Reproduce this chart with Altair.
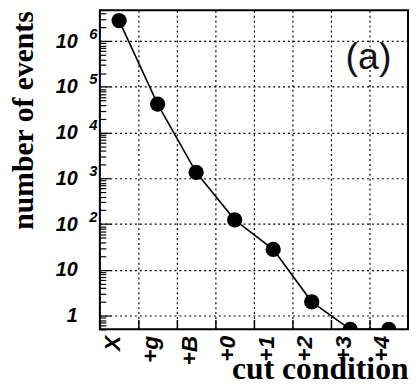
import altair as alt
import pandas as pd

cuts = ["X", "+g", "+B", "+0", "+1", "+2", "+3", "+4"]
events = [2.8e6, 4.2e4, 1.35e3, 124, 28, 2.0, 0.5, 0.5]
major_ticks = [1, 10, 100, 1e3, 1e4, 1e5, 1e6]
exp_ticks = [100, 1e3, 1e4, 1e5, 1e6]
y_min, y_max = 0.5, 4.7e6
minor_ticks = [m * 10.0 ** k for k in range(-1, 7) for m in range(2, 10)
               if y_min <= m * 10.0 ** k <= y_max]
panel_label = "(a)"

df = pd.DataFrame({"cut": cuts, "events": events})

W, H = 312, 323

xscale = alt.Scale(domain=cuts, paddingInner=0, paddingOuter=0)
yscale = alt.Scale(type="log", domain=[y_min, y_max], clamp=True, nice=False)

k = "round(log(datum.value)/LN10)"
base_expr = "datum.value >= 10 ? '10' : '1'"
exp_expr = f"'' + {k}"

grid_style = dict(grid=True, gridColor="black", gridDash=[2, 3], gridWidth=1.2, gridOpacity=1)
lab_style = dict(labelFont="Liberation Sans", labelFontStyle="italic", labelFontWeight="bold",
                 labelColor="black")
title_style = dict(titleFont="Liberation Serif", titleFontWeight="bold", titleColor="black")

x_main = alt.X("cut:N", scale=xscale, sort=cuts,
               axis=alt.Axis(title="cut condition", titleAnchor="end", titleAlign="right",
                             titleBaseline="alphabetic", titleX=W, titleY=50, titleFontSize=32,
                             labelFontSize=23, labelAngle=270, labelAlign="right",
                             labelBaseline="middle", labelPadding=6, labelOffset=-7,
                             ticks=False, domain=False, tickBand="extent",
                             **grid_style, **lab_style, **title_style))
y_main = alt.Y("events:Q", scale=yscale,
               axis=alt.Axis(values=major_ticks, labelExpr=base_expr, title="number of events",
                             titleAngle=270, titleX=-68, titleY=111, titleBaseline="alphabetic",
                             titleAlign="center", titleFontSize=30,
                             labelFontSize=20, labelPadding=23, labelBaseline="middle",
                             ticks=False, domain=False,
                             **grid_style, **lab_style, **title_style))

base = alt.Chart(df).encode(x=x_main, y=y_main)
line = base.mark_line(color="black", strokeWidth=1.6, clip=True)
pts = base.mark_circle(size=240, color="black", opacity=1, clip=True)
main = alt.layer(line, pts)

is_major = "abs(log(datum.value)/LN10 - round(log(datum.value)/LN10)) < 0.001"
ticks = alt.Chart(df).mark_point(opacity=0).encode(
    x=alt.X("cut:N", scale=xscale, sort=cuts,
            axis=alt.Axis(orient="top", offset=-H, labels=False, grid=False, domain=False,
                          tickBand="extent", tickSize=10, tickColor="black", tickWidth=1.5,
                          title=None)),
    y=alt.Y("events:Q", scale=yscale,
            axis=alt.Axis(orient="right", offset=-W, values=major_ticks + minor_ticks,
                          labels=False, grid=False, domain=False, title=None,
                          tickColor="black", tickWidth=1.2,
                          tickSize={"condition": {"test": is_major, "value": 11}, "value": 6})),
)

exps = alt.Chart(df).mark_point(opacity=0).encode(
    x=alt.value(0),
    y=alt.Y("events:Q", scale=yscale,
            axis=alt.Axis(orient="left", values=exp_ticks, labelExpr=exp_expr,
                          labelFontSize=15, labelPadding=3, labelBaseline="alphabetic",
                          labelOffset=-3, ticks=False, grid=False, domain=False, title=None,
                          **lab_style)),
)

txt = alt.Chart(pd.DataFrame({"t": [panel_label]})).mark_text(
    font="Liberation Sans", fontSize=38, color="#111", align="center", baseline="middle"
).encode(text="t:N", x=alt.value(272), y=alt.value(48))

chart = alt.layer(main, ticks, exps, txt).resolve_scale(x="independent", y="independent").properties(
    width=W, height=H, padding=0, background="white"
).configure_view(stroke="black", strokeWidth=2)

chart.save("out.html", embed_options={"renderer": "svg", "actions": False})
